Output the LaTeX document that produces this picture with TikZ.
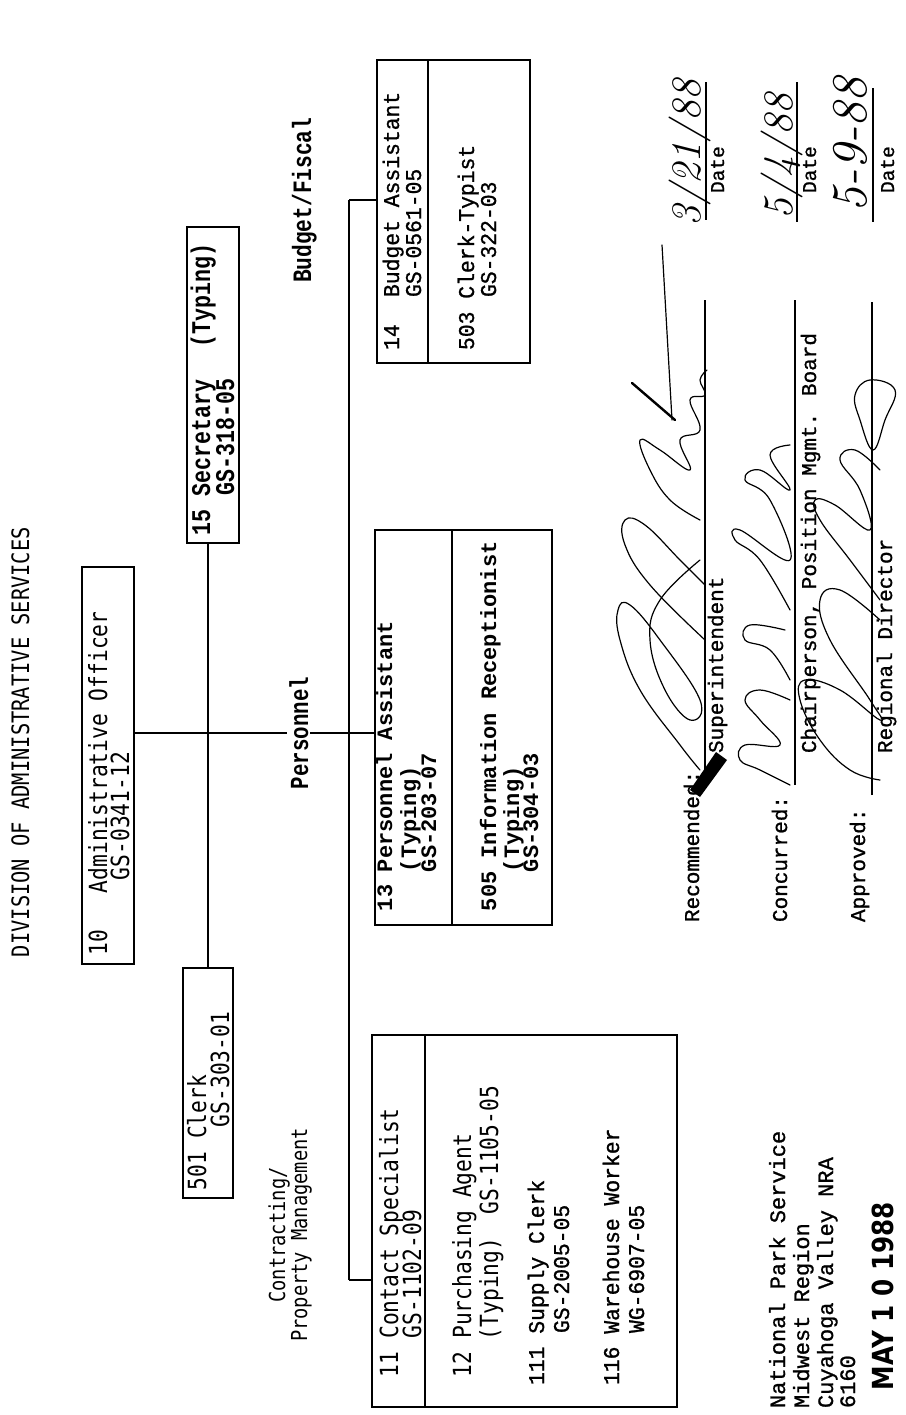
\documentclass[tikz,border=0pt]{standalone}
\usepackage{fontspec}
\newfontfamily\tfA{DejaVu Sans Mono}[FakeStretch=0.85]
\newfontfamily\tfB{Liberation Mono}
\newfontfamily\tfC{Liberation Mono}[FakeStretch=0.95,FakeBold=1]
\newfontfamily\tfG{Liberation Mono}[FakeBold=1]
\newfontfamily\tfE{Liberation Mono}[FakeStretch=0.8]
\newfontfamily\tfD{DejaVu Sans}[FakeStretch=0.85]
\newcommand\fsz[1]{\fontsize{#1}{#1}\selectfont}
\begin{document}
\begin{tikzpicture}[x=1pt,y=-1pt,line width=1.8pt,
  txt/.style={rotate=90,anchor=base west,inner sep=0pt,outer sep=0pt},
  ctxt/.style={rotate=90,anchor=base,inner sep=0pt,outer sep=0pt},
  sa/.style={txt,font=\tfA\fsz{25}},
  sb/.style={txt,font=\tfB\bfseries\fsz{22}},
  sc/.style={txt,font=\tfC\fsz{22.5}},
  sg/.style={txt,font=\tfG\fsz{21}},
  se/.style={txt,font=\tfE\bfseries\fsz{27}},
  orgbox/.style={draw,rectangle,inner sep=0pt,outer sep=0pt},
  sig/.style={line width=1.2pt,line cap=round,line join=round},
  hand/.style={rotate=90,anchor=base west,inner sep=0pt,font=\itshape}]
\fill[white] (0,0) rectangle (905,1415);
\useasboundingbox (0,0) rectangle (905,1415);

% ---------- title ----------
\node[txt,font=\tfA\fsz{24}] (title) at (29,957) {DIVISION OF ADMINISTRATIVE SERVICES};

% ---------- boxes ----------
\node[orgbox,minimum width=52pt,minimum height=397pt] (box10) at (108,765.5) {};
\node[orgbox,minimum width=52pt,minimum height=316pt] (box15) at (213,385) {};
\node[orgbox,minimum width=50pt,minimum height=230pt] (box501) at (208,1083) {};
\node[orgbox,minimum width=153pt,minimum height=303pt] (box14) at (453.5,211.5) {};
\node[orgbox,minimum width=177pt,minimum height=395pt] (box13) at (463.5,727.5) {};
\node[orgbox,minimum width=305pt,minimum height=372pt] (box11) at (524.5,1221) {};
% dividers inside the group boxes
\draw (428,60) -- (428,363);
\draw (452,530) -- (452,925);
\draw (425,1035) -- (425,1407);

% ---------- connectors ----------
\coordinate (jmain) at (349,733);
\coordinate (jtop) at (349,200);
\coordinate (jbot) at (349,1280);
\coordinate (jstaff) at (208,733);
\draw (box10.east |- jmain) -- (box13.west |- jmain);
\draw (box15.south -| jstaff) -- (box501.north -| jstaff);
\draw (jtop) -- (jbot);
\draw (jtop) -- (box14.west |- jtop);
\draw (jbot) -- (box11.west |- jbot);

% ---------- labels ----------
\node[ctxt,font=\tfE\bfseries\fsz{26},fill=white,inner sep=2pt] (lpers) at (308,733) {Personnel};
\node[se,font=\tfE\bfseries\fsz{26.5}] (lbud) at (311,283) {Budget/Fiscal};
\node[ctxt,font=\tfA\fsz{22}] (lcon1) at (285,1235) {Contracting/};
\node[ctxt,font=\tfA\fsz{22}] (lcon2) at (307,1235) {Property Management};

% ---------- box 10 ----------
\node[sa] (t10a) at (107,955) {10};
\node[sa] (t10b) at (107,893) {Administrative Officer};
\node[sa] (t10c) at (129,880) {GS-0341-12};

% ---------- box 15 ----------
\node[se] (t15a) at (210,535) {15 Secretary};
\node[se] (t15b) at (210,347) {(Typing)};
\node[se] (t15c) at (234,495) {GS-318-05};

% ---------- box 501 ----------
\node[sa] (t501a) at (206,1190) {501 Clerk};
\node[sa] (t501b) at (229,1127) {GS-303-01};

% ---------- box 14 / 503 ----------
\node[sc] (t14a) at (399,350) {14};
\node[sc] (t14b) at (399,297) {Budget Assistant};
\node[sc] (t14c) at (421,297) {GS-0561-05};
\node[sc] (t503a) at (474,350) {503 Clerk-Typist};
\node[sc] (t503b) at (496,297) {GS-322-03};

% ---------- box 13 / 505 ----------
\node[sb] (t13a) at (392,911) {13};
\node[sb] (t13b) at (392,872) {Personnel Assistant};
\node[sb] (t13c) at (416,872) {(Typing)};
\node[sb] (t13d) at (436,872) {GS-203-07};
\node[sb] (t505a) at (496,911) {505 Information Receptionist};
\node[sb] (t505b) at (519,872) {(Typing)};
\node[sb] (t505c) at (538,872) {GS-304-03};

% ---------- box 11 group ----------
\node[sa] (t11a) at (398,1377) {11 Contact Specialist};
\node[sa] (t11b) at (421,1338) {GS-1102-09};
\node[sa] (t12a) at (471,1377) {12 Purchasing Agent};
\node[sa] (t12b) at (498,1340) {(Typing)};
\node[sa] (t12c) at (498,1214) {GS-1105-05};
\node[sc] (t111a) at (544,1385) {111 Supply Clerk};
\node[sc] (t111b) at (569,1333) {GS-2005-05};
\node[sc] (t116a) at (619,1385) {116 Warehouse Worker};
\node[sc] (t116b) at (644,1333) {WG-6907-05};

% ---------- signature block ----------
\node[sg] (ts1) at (699,922) {Recommended:};
\node[sg] (ts2) at (787,922) {Concurred:};
\node[sg] (ts3) at (865,922) {Approved:};
\draw (705,785) -- (705,300);
\draw (795,785) -- (795,300);
\draw (872,795) -- (872,302);
\node[sg] (tsup) at (723,753) {Superintendent};
\node[sg] (tchair) at (816,753) {Chairperson, Position Mgmt. Board};
\node[sg] (treg) at (892,753) {Regional Director};
\draw (706,220) -- (706,82);
\draw (797,222) -- (797,82);
\draw (873,222) -- (873,88);
\node[sg,font=\tfG\fsz{19.5}] (td1) at (724,193) {Date};
\node[sg,font=\tfG\fsz{19.5}] (td2) at (816,193) {Date};
\node[sg,font=\tfG\fsz{19.5}] (td3) at (894,193) {Date};

% handwritten dates
\node[hand,font=\itshape\fsz{42}] (hd1) at (700,227) {3/21/88};
\node[hand,font=\itshape\fsz{42}] (hd2) at (792,220) {5/4/88};
\node[hand,font=\itshape\fsz{50}] (hd3) at (866,213) {5-9-88};

% signatures (freehand)
\draw[sig] plot[smooth,tension=0.7] coordinates {(700,770) (680,745) (640,690) (620,640) (618,610) (630,605) (660,640) (700,700) (690,720) (665,690) (650,640) (660,600) (700,560)};
\draw[sig] plot[smooth,tension=0.7] coordinates {(705,640) (650,585) (625,545) (625,520) (645,525) (680,560) (705,585)};
\draw[sig] plot[smooth,tension=0.7] coordinates {(700,520) (670,500) (650,470) (640,440) (660,450) (690,470) (680,440) (700,430) (690,400) (705,395) (700,380) (707,370)};
\draw[sig] (662,245) -- (672,420);
\draw[sig,line width=2.4pt] (632,383) -- (675,420);
\draw[sig] plot[smooth,tension=0.7] coordinates {(790,785) (760,770) (740,760) (745,745) (780,745) (760,720) (745,700) (760,690) (790,700)};
\draw[sig] plot[smooth,tension=0.7] coordinates {(790,680) (770,650) (745,640) (750,625) (785,630)};
\draw[sig] plot[smooth,tension=0.7] coordinates {(790,610) (760,560) (735,540) (740,530) (790,560) (770,500) (745,480) (760,470) (790,490) (770,455) (790,445)};
\draw[sig] plot[smooth,tension=0.7] coordinates {(880,780) (850,770) (820,740) (800,700) (805,680) (840,690) (880,720) (870,700) (830,640) (820,600) (840,590) (880,620)};
\draw[sig] plot[smooth,tension=0.7] coordinates {(880,600) (850,560) (820,520) (815,500) (835,505) (870,530) (860,490) (840,460) (855,450) (880,470)};
\draw[sig] plot[smooth cycle,tension=0.7] coordinates {(873,450) (860,420) (855,395) (870,380) (895,390) (885,420)};
\fill (690,790) -- (700,797) -- (727,760) -- (716,752) -- cycle;

% ---------- address ----------
\node[sg,font=\tfG\fsz{22}] (ta1) at (785,1408) {National Park Service};
\node[sg,font=\tfG\fsz{22}] (ta2) at (809,1408) {Midwest Region};
\node[sg,font=\tfG\fsz{22}] (ta3) at (833,1408) {Cuyahoga Valley NRA};
\node[sg,font=\tfG\fsz{22}] (ta4) at (855,1408) {6160};
\node[txt,font=\tfD\bfseries\fsz{29}] (tmay) at (893,1390) {MAY 1 0 1988};
\end{tikzpicture}
\end{document}
